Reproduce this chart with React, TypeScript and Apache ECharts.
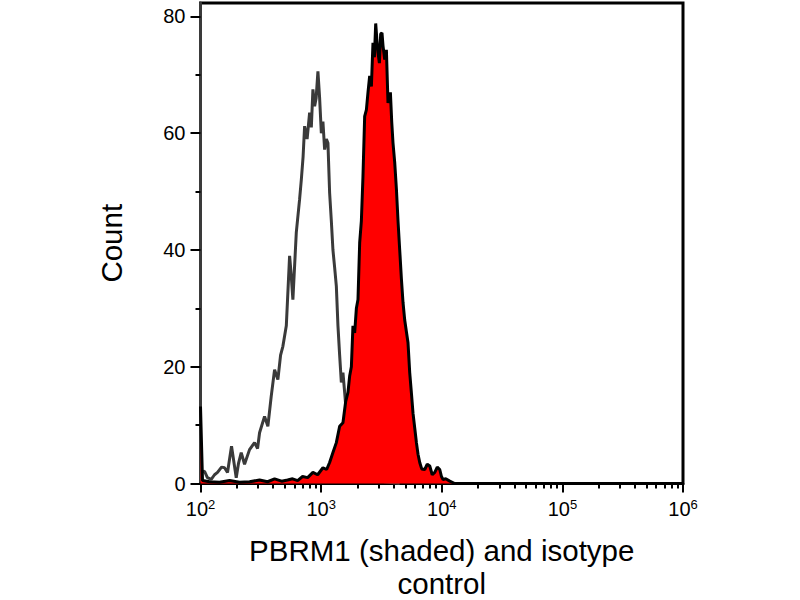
import React, { useEffect, useRef } from "react";
import * as echarts from "echarts";

// Isotype control (grey outline)
const isoX = [100, 108, 114, 122.7, 130.7, 138.4, 149.4, 158.2, 167.5, 180.8, 197.8, 206.8, 217.6, 231.8, 255, 280.6, 297.2, 308.8, 339.7, 361.8, 386.1, 411.3, 438.1, 461.2, 482, 514.4, 547.8, 563.6, 583.4, 622.6, 663.2, 685, 708.9, 729.6, 765.3, 802.8, 829.3, 855.1, 883.3, 909, 940.7, 971.8, 1004, 1035, 1069, 1105, 1139, 1176, 1215, 1253, 1294, 1337, 1379, 1424, 1471, 1517, 1567, 1619, 1692, 1791, 1934, 2168, 2526, 3365, 4482];
const isoCount = [1.9, 2.1, 1.0, 0.7, 1.5, 1.9, 2.8, 2.7, 1.9, 6.4, 1.0, 3.5, 5.3, 3.3, 5.8, 7.0, 6.0, 8.7, 11.5, 9.8, 15.0, 19.5, 17.8, 22, 23.5, 27, 39, 36, 31.5, 43, 48.7, 52, 56, 61.2, 59, 63.5, 61, 67.5, 64.6, 66, 70.6, 66, 60, 62, 57.2, 59, 58.3, 49.8, 45, 40, 37, 33.8, 27, 22, 17.3, 19, 15.6, 12, 9, 6, 3.5, 2, 1, 0.3, 0];

// PBRM1 (red shaded)
const pbrmX = [100, 103.9, 118.8, 143.8, 174.1, 210.7, 255, 308.8, 359.7, 411.3, 470.1, 527.2, 580, 638.3, 702.3, 772.7, 855.1, 935.4, 1035, 1111, 1176, 1253, 1337, 1424, 1517, 1597, 1669, 1724, 1781, 1836, 1897, 1960, 2021, 2087, 2156, 2223, 2296, 2372, 2446, 2526, 2610, 2691, 2764, 2834, 2899, 2961, 3041, 3117, 3196, 3258, 3365, 3476, 3584, 3752, 3847, 3944, 4074, 4209, 4339, 4482, 4630, 4774, 4931, 5093, 5252, 5425, 5604, 5780, 5970, 6166, 6358, 6568, 6823, 7226, 7579, 7952, 8340, 8749, 9178, 9625, 9943, 10252, 10795, 11651, 12820];
const pbrmCount = [13.2, 0.5, 0.3, 0.2, 0.5, 0.2, 0.3, 0.6, 0.3, 0.8, 0.4, 0.6, 0.8, 0.5, 1.2, 1.0, 1.9, 1.5, 2.7, 2.4, 3.6, 5.3, 7, 9.8, 10.4, 14, 15.6, 18.4, 20, 27, 25.8, 30, 31.5, 41.2, 45, 52.6, 62.9, 64, 67, 69.8, 68, 75.5, 73, 78.8, 76, 73.8, 72, 77, 77.2, 75, 72.6, 74.3, 65.2, 67, 62, 58.3, 55, 50.4, 45, 40, 35, 31, 28, 26, 24.1, 19, 15.5, 12, 9.5, 7, 5, 3.6, 2.5, 2.4, 3.3, 3, 1.5, 1.9, 2.8, 2.4, 1.2, 0.7, 0.8, 0.4, 0];

const xMajor = [100, 1000, 10000, 100000, 1000000];
const xMinor = [200, 300, 400, 500, 600, 700, 800, 900, 2000, 3000, 4000, 5000, 6000, 7000, 8000, 9000, 20000, 30000, 40000, 50000, 60000, 70000, 80000, 90000, 200000, 300000, 400000, 500000, 600000, 700000, 800000, 900000];
const yMajor = [0, 20, 40, 60, 80];
const yMinor = [10, 30, 50, 70];
const yMax = 82.3;

const xTitle = "PBRM1 (shaded) and isotype\ncontrol";
const yTitle = "Count";

const FONT = "Liberation Sans";

export default function App() {
  const ref = useRef<HTMLDivElement>(null);
  useEffect(() => {
    document.body.style.margin = "0";
    const chart = echarts.init(ref.current!, null, { renderer: "svg" });
    const iso = isoX.map((x, i) => [x, isoCount[i]]);
    const pbrm = pbrmX.map((x, i) => [x, pbrmCount[i]]);
    const lgMin = Math.log10(xMajor[0]);
    const lgMax = Math.log10(xMajor[xMajor.length - 1]);
    chart.setOption({
      animation: false,
      backgroundColor: "#fff",
      grid: {
        left: 200.5,
        right: 117,
        top: 3,
        bottom: 116.5,
        show: true,
        borderColor: "#000",
        borderWidth: 3,
        backgroundColor: "transparent",
        containLabel: false,
        outerBoundsMode: "none",
      },
      xAxis: [
        {
          type: "log",
          logBase: 10,
          min: 100,
          max: 1000000,
          position: "bottom",
          name: xTitle,
          nameLocation: "middle",
          nameGap: 51,
          nameTextStyle: { fontFamily: FONT, fontSize: 29.5, color: "#000", lineHeight: 32.5 },
          axisLine: { show: true, onZero: false, lineStyle: { color: "#000", width: 2.5 } },
          axisTick: { show: true, length: 9, customValues: xMajor, lineStyle: { color: "#000", width: 2 } },
          axisLabel: {
            customValues: xMajor,
            margin: 14,
            color: "#000",
            fontFamily: FONT,
            fontSize: 20,
            formatter: (v: number) => `{b|10}{s|${Math.round(Math.log10(v))}}`,
            rich: {
              b: { fontFamily: FONT, fontSize: 20, color: "#000", lineHeight: 22 },
              s: { fontFamily: FONT, fontSize: 13, color: "#000", lineHeight: 9, verticalAlign: "top" },
            },
          },
          splitLine: { show: false },
          minorTick: { show: false },
        },
        {
          // minor decade ticks, placed on the log10 scale
          type: "value",
          min: lgMin,
          max: lgMax,
          position: "bottom",
          axisLine: { show: false, onZero: false },
          axisTick: { show: true, length: 5, customValues: xMinor.map((v) => Math.log10(v)), lineStyle: { color: "#000", width: 2 } },
          axisLabel: { show: false },
          splitLine: { show: false },
        },
      ],
      yAxis: [
        {
          type: "value",
          min: 0,
          max: yMax,
          position: "left",
          name: yTitle,
          nameLocation: "middle",
          nameGap: 74,
          nameTextStyle: { fontFamily: FONT, fontSize: 29.5, color: "#000" },
          axisLine: { show: true, onZero: false, lineStyle: { color: "#3a3a3a", width: 3 } },
          axisTick: { show: true, length: 10, customValues: yMajor, lineStyle: { color: "#000", width: 2 } },
          axisLabel: { customValues: yMajor, margin: 15, color: "#000", fontFamily: FONT, fontSize: 20 },
          splitLine: { show: false },
        },
        {
          type: "value",
          min: 0,
          max: yMax,
          position: "left",
          axisLine: { show: false, onZero: false },
          axisTick: { show: true, length: 5, customValues: yMinor, lineStyle: { color: "#000", width: 2 } },
          axisLabel: { show: false },
          splitLine: { show: false },
        },
      ],
      series: [
        {
          type: "line",
          name: "isotype",
          data: iso,
          xAxisIndex: 0,
          yAxisIndex: 0,
          showSymbol: false,
          symbol: "none",
          lineStyle: { color: "#3a3a3a", width: 3 },
          z: 2,
        },
        {
          type: "line",
          name: "PBRM1",
          data: pbrm,
          xAxisIndex: 0,
          yAxisIndex: 0,
          showSymbol: false,
          symbol: "none",
          lineStyle: { color: "#000", width: 3 },
          areaStyle: { color: "#ff0000", opacity: 1 },
          z: 3,
        },
      ],
    });
    return () => chart.dispose();
  }, []);
  return <div ref={ref} style={{ position: "absolute", left: 0, top: 0, width: 800, height: 600 }} />;
}
